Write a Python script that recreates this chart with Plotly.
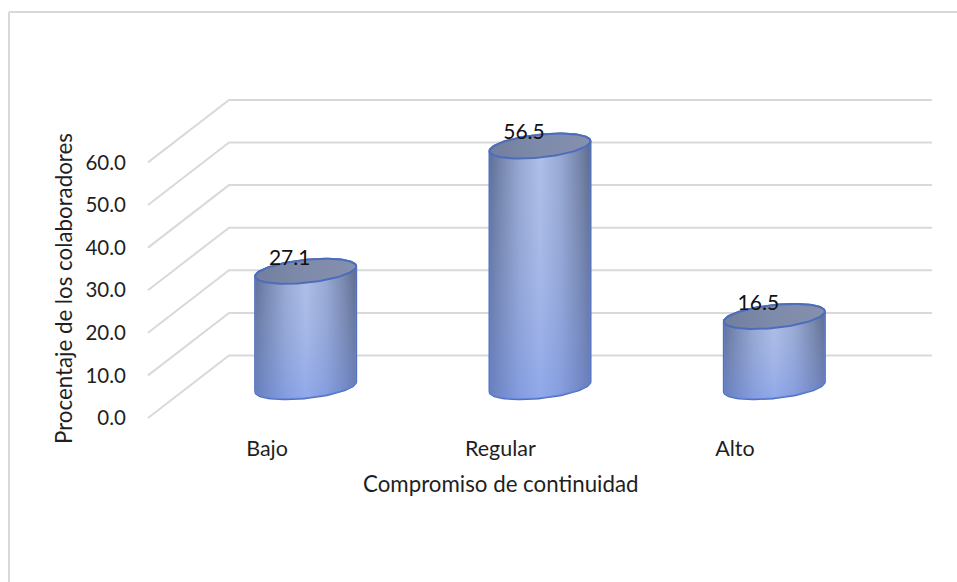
import numpy as np
import plotly.graph_objects as go

# Chart content
categories = ["Bajo", "Regular", "Alto"]
values = [27.1, 56.5, 16.5]
y_ticks = [0, 10, 20, 30, 40, 50, 60]
y_tick_labels = ["0.0", "10.0", "20.0", "30.0", "40.0", "50.0", "60.0"]
category_tick_positions = [0.508, 1.504, 2.505]

# Oblique projection: a unit of depth moves a point right and up, in axis units
DEPTH_X = 0.3457
DEPTH_Y = 14.67

# Elliptical footprint of each cylinder, in axis units
RADIUS_X = 0.2155
RADIUS_Y = 2.7
TILT_Y = 1.17

WIDTH, HEIGHT = 957, 582
PX_PER_CATEGORY = 234.33
PX_PER_VALUE = 4.26
ORIGIN_PX = (148, 418)

FONT = "Lato"
TEXT = "#1f1f1f"
GRID = "#d9d9d9"
EDGE = "#4c6dbb"

BODY_SIDES = [
    [0.0, "#52648c"], [0.1, "#6a7ba4"], [0.3, "#93a5d2"], [0.5, "#aebfea"],
    [0.7, "#94a6d4"], [0.9, "#6a7aa0"], [1.0, "#525f84"],
]
BODY_SHADE = [[0.0, "rgba(120,150,235,0.55)"], [1.0, "rgba(180,190,215,0.10)"]]
TOP_FILL = [[0.0, "#727e9d"], [0.5, "#7f8bab"], [1.0, "#858fae"]]


def ellipse(cx, cy, t):
    return cx + RADIUS_X * np.cos(t), cy + RADIUS_Y * np.sin(t) + TILT_Y * np.cos(t)


fig = go.Figure()

# Floor-to-wall gridlines
for tick in y_ticks:
    fig.add_trace(go.Scatter(
        x=[0, DEPTH_X, len(categories) + DEPTH_X],
        y=[tick, tick + DEPTH_Y, tick + DEPTH_Y],
        mode="lines", line=dict(color=GRID, width=2),
    ))

# Cylinders stand halfway along the depth of the floor
for i, value in enumerate(values):
    cx = i + 0.5 + DEPTH_X / 2
    base = DEPTH_Y / 2
    top = value + DEPTH_Y / 2

    front = np.linspace(np.pi, 2 * np.pi, 60)
    back = np.linspace(0, np.pi, 60)
    bx, by = ellipse(cx, base, front)
    tx, ty = ellipse(cx, top, back)
    body_x = np.concatenate([bx, tx, bx[:1]])
    body_y = np.concatenate([by, ty, by[:1]])

    fig.add_trace(go.Scatter(
        x=body_x, y=body_y, mode="lines", fill="toself",
        line=dict(color=EDGE, width=2),
        fillgradient=dict(type="horizontal", colorscale=BODY_SIDES),
    ))
    fig.add_trace(go.Scatter(
        x=body_x, y=body_y, mode="none", fill="toself",
        fillgradient=dict(type="vertical", colorscale=BODY_SHADE),
    ))

    whole = np.linspace(0, 2 * np.pi, 120)
    ex, ey = ellipse(cx, top, whole)
    fig.add_trace(go.Scatter(
        x=ex, y=ey, mode="lines", fill="toself",
        line=dict(color=EDGE, width=2),
        fillgradient=dict(type="horizontal", colorscale=TOP_FILL),
    ))

# Value labels sit on the back-left of each cylinder's cap
fig.add_trace(go.Scatter(
    x=[i + 0.5 + DEPTH_X / 2 - 16 / PX_PER_CATEGORY for i in range(len(values))],
    y=[v + DEPTH_Y / 2 + 12 / PX_PER_VALUE for v in values],
    mode="text",
    text=[f"{v:.1f}" for v in values],
    textposition="middle center",
    textfont=dict(family=FONT, size=21, color="#111111"),
))

fig.update_layout(
    width=WIDTH, height=HEIGHT,
    margin=dict(l=0, r=0, t=0, b=0),
    paper_bgcolor="white", plot_bgcolor="white",
    showlegend=False, hovermode=False,
    font=dict(family=FONT, color=TEXT),
    xaxis=dict(
        range=[-ORIGIN_PX[0] / PX_PER_CATEGORY, (WIDTH - ORIGIN_PX[0]) / PX_PER_CATEGORY],
        domain=[0, 1], showgrid=False, zeroline=False, showline=False,
        tickmode="array", tickvals=category_tick_positions, ticktext=categories,
        tickfont=dict(family=FONT, size=21.5, color=TEXT),
        anchor="free", position=(HEIGHT - 421) / HEIGHT,
        ticks="outside", ticklen=8, tickcolor="rgba(0,0,0,0)",
    ),
    yaxis=dict(
        range=[(ORIGIN_PX[1] - HEIGHT) / PX_PER_VALUE, ORIGIN_PX[1] / PX_PER_VALUE],
        domain=[0, 1], showgrid=False, zeroline=False, showline=False,
        tickmode="array", tickvals=y_ticks, ticktext=y_tick_labels,
        tickfont=dict(family=FONT, size=20.5, color=TEXT),
        anchor="free", position=ORIGIN_PX[0] / WIDTH,
        ticks="outside", ticklen=18, tickcolor="rgba(0,0,0,0)",
    ),
    shapes=[
        dict(type="line", xref="paper", yref="paper", x0=9 / WIDTH, x1=1,
             y0=1 - 12 / HEIGHT, y1=1 - 12 / HEIGHT, line=dict(color=GRID, width=2)),
        dict(type="line", xref="paper", yref="paper", x0=9 / WIDTH, x1=9 / WIDTH,
             y0=0, y1=1 - 12 / HEIGHT, line=dict(color=GRID, width=2)),
    ],
    annotations=[
        dict(text="Compromiso de continuidad", xref="paper", yref="paper",
             x=501 / WIDTH, y=1 - 483.5 / HEIGHT, xanchor="center", yanchor="middle",
             showarrow=False, font=dict(family=FONT, size=22.3, color=TEXT)),
        dict(text="Procentaje de los colaboradores", xref="paper", yref="paper",
             x=63 / WIDTH, y=1 - 289 / HEIGHT, xanchor="center", yanchor="middle",
             showarrow=False, textangle=-90,
             font=dict(family=FONT, size=22.3, color=TEXT)),
    ],
)

fig.write_html("out.html")
